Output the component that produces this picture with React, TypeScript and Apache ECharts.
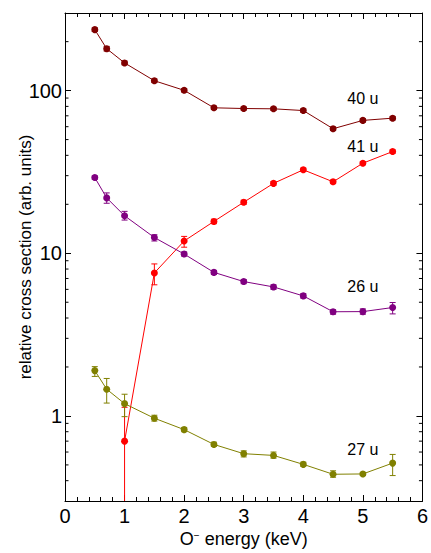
import React, { useEffect, useRef } from "react";
import * as echarts from "echarts";

const FONT = "'Liberation Sans', Arial, sans-serif";

const energies = [0.5, 0.7, 1, 1.5, 2, 2.5, 3, 3.5, 4, 4.5, 5, 5.5];
const energies41 = [1, 1.5, 2, 2.5, 3, 3.5, 4, 4.5, 5, 5.5];

const values40 = [237, 181, 148, 115, 100.4, 78.4, 77.6, 77.3, 75.4, 58.3, 65.6, 67.7];
const low40 = [231, 175, 144, 112, 98, 76.5, 76, 75.6, 73.6, 56.8, 64, 66];
const high40 = [243, 187, 152, 118, 102.8, 80.3, 79.2, 79, 77.2, 59.8, 67.2, 69.4];

const values41 = [0.7, 7.57, 11.9, 15.7, 20.6, 26.9, 32.6, 27.5, 35.8, 42.2];
const low41 = [0.05, 6.4, 10.9, 15.2, 20.0, 26.2, 31.8, 26.8, 35.0, 41.2];
const high41 = [1.13, 8.6, 12.7, 16.2, 21.2, 27.6, 33.4, 28.2, 36.6, 43.2];

const values26 = [29.2, 21.9, 17.0, 12.5, 9.89, 7.63, 6.7, 6.21, 5.47, 4.37, 4.38, 4.64];
const low26 = [28.5, 20.3, 16.0, 11.9, 9.6, 7.4, 6.5, 6.0, 5.3, 4.22, 4.22, 4.24];
const high26 = [29.9, 23.5, 18.1, 13.0, 10.2, 7.85, 6.9, 6.4, 5.65, 4.5, 4.55, 4.98];

const values27 = [1.9, 1.46, 1.19, 0.968, 0.824, 0.668, 0.586, 0.572, 0.504, 0.438, 0.44, 0.513];
const low27 = [1.75, 1.2, 0.99, 0.93, 0.8, 0.65, 0.56, 0.55, 0.49, 0.42, 0.43, 0.43];
const high27 = [2.01, 1.7, 1.36, 1.01, 0.85, 0.69, 0.61, 0.6, 0.52, 0.46, 0.45, 0.58];

const seriesNames = ["40 u", "41 u", "26 u", "27 u"];
const seriesColors = ["#800000", "#ff0000", "#800080", "#808000"];
const labelX = [5, 5, 5, 5];
const labelY = [89, 45.4, 6.24, 0.62];

const xMin = 0;
const xMax = 6;
const yMin = 0.3;
const yMax = 300;
const yMinorTicks = [0.4, 0.5, 0.6, 0.7, 0.8, 0.9, 2, 3, 4, 5, 6, 7, 8, 9, 20, 30, 40, 50, 60, 70, 80, 90, 200];

function errorSeries(xs: number[], lo: number[], hi: number[], color: string, name: string) {
  return {
    type: "custom",
    name: name + " err",
    silent: true,
    z: 2,
    encode: { x: 0, y: [1, 2] },
    data: xs.map((x, i) => [x, lo[i], hi[i]]),
    renderItem: (params: any, api: any) => {
      const x = api.value(0);
      const rawLo = api.value(1);
      const lo = Math.max(rawLo, yMin);
      const hi = Math.min(api.value(2), yMax);
      const p1 = api.coord([x, lo]);
      const p2 = api.coord([x, hi]);
      const cw = 3;
      const style = { stroke: color, lineWidth: 1 };
      const children: any[] = [
        { type: "line", shape: { x1: p1[0], y1: p1[1], x2: p2[0], y2: p2[1] }, style },
        { type: "line", shape: { x1: p2[0] - cw, y1: p2[1], x2: p2[0] + cw, y2: p2[1] }, style },
      ];
      if (rawLo >= yMin) {
        children.push({ type: "line", shape: { x1: p1[0] - cw, y1: p1[1], x2: p1[0] + cw, y2: p1[1] }, style });
      }
      return { type: "group", children };
    },
  };
}

function lineSeries(xs: number[], ys: number[], color: string, name: string) {
  return {
    type: "line",
    name,
    z: 3,
    data: xs.map((x, i) => [x, ys[i]]),
    symbol: "circle",
    symbolSize: 7,
    showAllSymbol: true,
    itemStyle: { color },
    lineStyle: { color, width: 1 },
  };
}

export default function App() {
  const ref = useRef<HTMLDivElement>(null);
  useEffect(() => {
    if (!ref.current) return;
    const chart = echarts.init(ref.current, undefined, { renderer: "svg" });
    const axisLine = { show: true, onZero: false, lineStyle: { color: "#000", width: 1 } };
    const isPow10 = (v: number) => Math.abs(Math.log10(v) - Math.round(Math.log10(v))) < 1e-6;
    const option: any = {
      animation: false,
      backgroundColor: "#fff",
      grid: { left: 65, right: 3, top: 13, bottom: 50, containLabel: false },
      xAxis: [
        {
          type: "value",
          min: xMin,
          max: xMax,
          interval: 1,
          position: "bottom",
          axisLine,
          axisTick: { show: true, inside: true, length: 6, lineStyle: { color: "#000" } },
          minorTick: { show: true, splitNumber: 5, length: 4, lineStyle: { color: "#000" } },
          splitLine: { show: false },
          axisLabel: { color: "#000", fontSize: 20, fontFamily: FONT, margin: 5 },
          name: "O{s|−} energy (keV)",
          nameLocation: "middle",
          nameGap: 29,
          nameMoveOverlap: false,
          nameTextStyle: {
            color: "#000",
            fontSize: 18,
            fontFamily: FONT,
            rich: { s: { fontSize: 10, fontFamily: FONT, color: "#000", verticalAlign: "top" } },
          },
        },
        {
          type: "value",
          min: xMin,
          max: xMax,
          interval: 1,
          position: "top",
          axisLine,
          axisTick: { show: true, inside: true, length: 6, lineStyle: { color: "#000" } },
          minorTick: { show: true, splitNumber: 5, length: 4, lineStyle: { color: "#000" } },
          splitLine: { show: false },
          axisLabel: { show: false },
        },
      ],
      yAxis: [
        {
          type: "log",
          logBase: 10,
          min: yMin,
          max: yMax,
          position: "left",
          axisLine,
          axisTick: { show: true, inside: true, length: 6, lineStyle: { color: "#000" } },
          splitLine: { show: false },
          axisLabel: {
            color: "#000",
            fontSize: 20,
            fontFamily: FONT,
            margin: 3,
            formatter: (v: number) => (isPow10(v) ? String(Math.round(v)) : ""),
          },
          name: "relative cross section (arb. units)",
          nameLocation: "middle",
          nameGap: 31,
          nameMoveOverlap: false,
          nameTextStyle: { color: "#000", fontSize: 17, fontFamily: FONT },
        },
        {
          type: "log",
          logBase: 10,
          min: yMin,
          max: yMax,
          position: "right",
          axisLine,
          axisTick: { show: true, inside: true, length: 6, lineStyle: { color: "#000" } },
          splitLine: { show: false },
          axisLabel: { show: false },
        },
      ],
      series: [
        {
          type: "custom",
          name: "minor ticks",
          silent: true,
          z: 1,
          encode: { x: 0, y: 1 },
          data: yMinorTicks.map((v) => [xMin, v]),
          renderItem: (params: any, api: any) => {
            const v = api.value(1);
            const p = api.coord([xMin, v]);
            const q = api.coord([xMax, v]);
            const style = { stroke: "#000", lineWidth: 1 };
            return {
              type: "group",
              children: [
                { type: "line", shape: { x1: p[0], y1: p[1], x2: p[0] + 3.5, y2: p[1] }, style },
                { type: "line", shape: { x1: q[0], y1: q[1], x2: q[0] - 3.5, y2: q[1] }, style },
              ],
            };
          },
        },
        errorSeries(energies, low40, high40, seriesColors[0], seriesNames[0]),
        errorSeries(energies41, low41, high41, seriesColors[1], seriesNames[1]),
        errorSeries(energies, low26, high26, seriesColors[2], seriesNames[2]),
        errorSeries(energies, low27, high27, seriesColors[3], seriesNames[3]),
        lineSeries(energies, values40, seriesColors[0], seriesNames[0]),
        lineSeries(energies41, values41, seriesColors[1], seriesNames[1]),
        lineSeries(energies, values26, seriesColors[2], seriesNames[2]),
        lineSeries(energies, values27, seriesColors[3], seriesNames[3]),
        {
          type: "custom",
          name: "labels",
          silent: true,
          z: 4,
          encode: { x: 0, y: 1 },
          data: labelX.map((x, i) => [x, labelY[i]]),
          renderItem: (params: any, api: any) => {
            const p = api.coord([api.value(0), api.value(1)]);
            return {
              type: "text",
              x: p[0],
              y: p[1],
              style: {
                text: seriesNames[params.dataIndex],
                fill: "#000",
                fontSize: 16,
                fontFamily: FONT,
                align: "center",
                verticalAlign: "middle",
              },
            };
          },
        },
      ],
    };
    chart.setOption(option);
    return () => chart.dispose();
  }, []);
  return (
    <div
      ref={ref}
      style={{ position: "absolute", left: 0, top: 0, width: 431, height: 553 }}
    />
  );
}
